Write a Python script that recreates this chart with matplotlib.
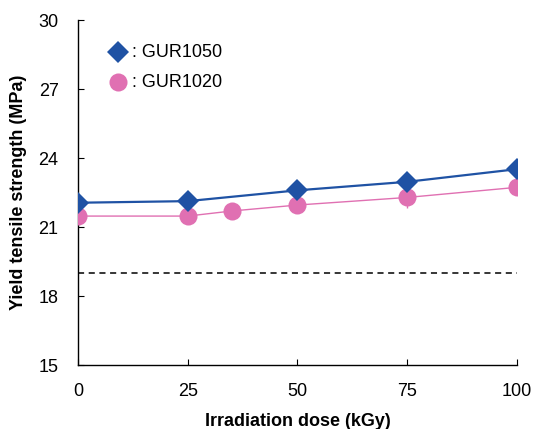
import matplotlib
matplotlib.use("Agg")
import matplotlib.pyplot as plt

plt.rcParams['font.family'] = ['Liberation Sans', 'DejaVu Sans']

dose_1050 = [0, 25, 50, 75, 100]
ys_1050 = [22.06, 22.13, 22.60, 22.97, 23.52]
err_1050 = [0.35, 0.15, 0.37, 0.43, 0.15]

dose_1020 = [0, 25, 35, 50, 75, 100]
ys_1020 = [21.48, 21.48, 21.70, 21.96, 22.29, 22.73]
err_1020 = [0.3, 0.15, 0.2, 0.15, 0.48, 0.15]

ref_x = [0, 100]
ref_y = [19.0, 19.0]

xticks = [0, 25, 50, 75, 100]
yticks = [15, 18, 21, 24, 27, 30]

blue = '#1f52a4'
pink = '#e070b2'

fig = plt.figure(figsize=(5.36, 4.29), dpi=100)
ax = fig.add_axes([0.1455, 0.149, 0.819, 0.804])

ax.plot(ref_x, ref_y, color='black', linestyle=(0, (4, 3)), linewidth=1.1)

ax.errorbar(dose_1020, ys_1020, yerr=err_1020, color=pink, marker='o', markersize=13,
            linewidth=1.0, capsize=5, elinewidth=1.0, markeredgewidth=0, ecolor=pink, zorder=3)
ax.errorbar(dose_1050, ys_1050, yerr=err_1050, color=blue, marker='D', markersize=11,
            linewidth=1.6, capsize=5, elinewidth=1.2, markeredgewidth=0, ecolor=blue, zorder=4)

ax.set_xlim(0, 100)
ax.set_ylim(15, 30)
ax.set_xticks(xticks)
ax.set_yticks(yticks)
ax.tick_params(direction='in', length=4, labelsize=13)
ax.tick_params(axis='x', pad=13)
ax.tick_params(axis='y', pad=14)
for s in ['top', 'right']:
    ax.spines[s].set_visible(False)
ax.spines['left'].set_linewidth(1.0)
ax.spines['bottom'].set_linewidth(1.0)
ax.set_xlabel('Irradiation dose (kGy)', fontsize=13, fontweight='bold', labelpad=9)
ax.set_ylabel('Yield tensile strength (MPa)', fontsize=13, fontweight='bold', labelpad=8)

# legend
ax.plot([9.2], [28.6], marker='D', color=blue, markersize=11, markeredgewidth=0, clip_on=False)
ax.text(12.3, 28.6, ': GUR1050', fontsize=13, va='center')
ax.plot([9.2], [27.3], marker='o', color=pink, markersize=13, markeredgewidth=0, clip_on=False)
ax.text(12.3, 27.3, ': GUR1020', fontsize=13, va='center')

fig.savefig('out.png', dpi=100)
